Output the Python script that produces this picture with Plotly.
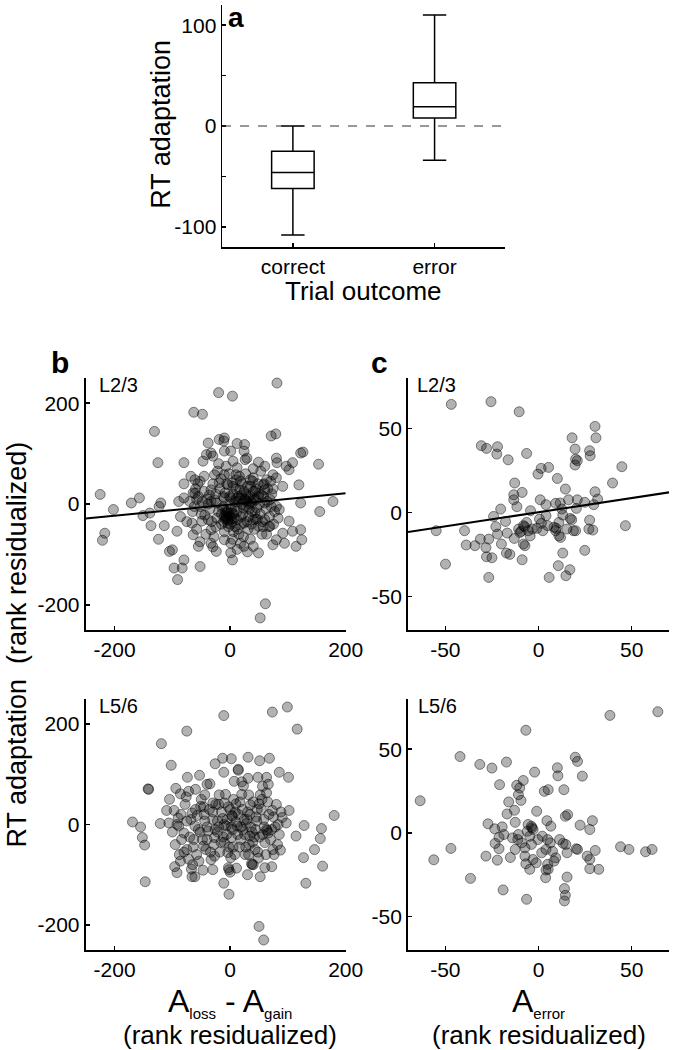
import plotly.graph_objects as go

FONT = "Liberation Sans, Arial, Helvetica, sans-serif"
W, H = 688, 1050

# ---------------- Panel a: RT adaptation by trial outcome (box statistics)
outcome_labels = ["correct", "error"]
box_q1 = [-62, 8]
box_median = [-46, 19]
box_q3 = [-25, 43]
box_lower = [-108, -34]
box_upper = [0, 110]

# ---------------- Panel b, L2/3: (A_loss - A_gain, RT adaptation), rank residualized
b_l23_points = [
    (81, 240), (-20, 221), (4, 214), (-63, 182), (-48, 178), (-225, 19), (-202, -11),
    (-171, 2), (-157, 12), (-151, -23), (-221, -72), (-217, -58), (-91, -150), (61, -198),
    (52, -226), (126, 103), (153, 79), (155, -15), (178, 5), (-83, -127), (124, -71),
    (-131, 144), (-38, 121), (-19, 128), (-10, 131), (-11, 125), (12, 120), (25, 118),
    (71, 135), (79, 139), (-125, 82), (-80, 82), (-47, 85), (-41, 98), (-33, 101), (-30, 95),
    (-10, 105), (1, 105), (24, 105), (26, 88), (29, 91), (49, 83), (80, 91), (81, 82),
    (108, 82), (97, 75), (102, 68), (122, 101), (-61, 48), (-52, 45), (-64, 22), (-61, 21),
    (-27, 58), (-10, 58), (-7, 75), (-33, 28), (-4, 38), (4, 42), (12, 72), (10, 58),
    (40, 52), (35, 35), (43, 25), (57, 38), (60, 28), (63, 48), (74, 58), (80, 52), (91, 35),
    (119, 38), (122, 2), (-89, 5), (-120, 2), (-123, -5), (-139, -18), (-80, 12), (-86, -25),
    (-58, 9), (-52, -5), (-33, 5), (-24, 2), (-10, 12), (1, 12), (18, 12), (29, 5), (38, 2),
    (49, 15), (60, 2), (69, 9), (80, -5), (85, -11), (-137, -43), (-114, -43), (-92, -54),
    (-66, -38), (-49, -34), (-64, -61), (-38, -31), (-33, -51), (-10, -25), (-7, -28),
    (-2, -21), (-4, -38), (12, -31), (24, -38), (40, -31), (49, -44), (60, -31), (69, -44),
    (83, -28), (102, -34), (91, -58), (108, -54), (122, -51), (-124, -70), (-100, -91),
    (-105, -94), (-80, -111), (-55, -84), (-52, -124), (-33, -78), (-24, -94), (-10, -71),
    (1, -78), (4, -111), (1, -97), (18, -78), (24, -84), (40, -84), (49, -97), (74, -81),
    (80, -71), (94, -78), (114, -84), (-97, -127),
    (-60, 30), (-55, 15), (-45, 25), (-40, 10), (-35, -10), (-30, 40), (-25, 20), (-20, -15),
    (-18, 30), (-15, -40), (-12, -5), (-8, -30), (-5, -15), (-3, -45), (0, -25), (2, -10),
    (3, -35), (5, 20), (6, -55), (8, 5), (10, 30), (12, -15), (14, 15), (15, -60), (18, 45),
    (20, 0), (22, -20), (24, 25), (26, 10), (28, -5), (30, 35), (32, -25), (34, 15), (36, 5),
    (38, -15), (40, 25), (42, -50), (44, 8), (46, -8), (48, 40), (50, 20), (52, -20),
    (55, -60), (58, 15), (62, -10), (65, 30), (68, -25), (72, 20), (75, -40), (-65, -15),
    (-58, -50), (-50, -20), (-45, 55), (-42, -60), (-38, 0), (-28, -65), (-22, 65), (-16, 50),
    (-10, -55), (-6, 40), (-2, 60), (4, -70), (9, -45), (16, 55), (19, -40), (23, -65),
    (27, 60), (31, -50), (35, -70), (39, 45), (44, -30), (53, 65), (57, -45), (63, -60),
    (70, 45), (77, -15), (-70, 5), (-75, -35), (-80, 40), (-25, -45), (-12, 15), (0, 0),
    (6, -20), (-8, -15), (-5, -25), (-15, -20), (2, -30), (10, 10), (25, 8), (33, 0), (20, 18),
    (-62, -5), (-56, 40), (-48, 5), (-44, -22), (-36, 18), (-32, -35), (-27, 8), (-23, -28),
    (-19, 42), (-14, -8), (-11, -35), (-9, 22), (-6, -18), (-4, -32), (-1, 15), (1, -40),
    (3, -18), (5, 35), (7, -28), (9, -5), (11, 48), (13, -50), (15, 5), (17, 28), (19, -25),
    (21, 40), (23, -8), (27, 20), (29, -35), (31, 15), (33, -10), (35, 48), (37, -40),
    (41, 10), (43, -18), (45, 30), (47, -30), (51, 0), (54, 18), (56, -35), (59, 40),
    (64, 5), (67, -45), (71, -5), (74, 30), (-68, 55), (-52, -75), (-30, -85), (12, -90),
    (30, -95), (-20, 80), (5, 85), (40, 70), (60, 75),
]
b_l23_fit_intercept = -1.0
b_l23_fit_slope = 0.112

# ---------------- Panel b, L5/6
b_l56_points = [
    (-11, 217), (73, 224), (99, 234), (-75, 186), (116, 190), (-119, 161), (-102, 118),
    (-13, 132), (2, 131), (-26, 121), (31, 134), (51, 127), (68, 132), (14, 110), (14, 108),
    (-11, 104), (85, 104), (101, 94), (31, 92), (48, 94), (63, 94), (-142, 71), (-141, 70),
    (-74, 94), (-53, 98), (-35, 81), (7, 86), (23, 77), (56, 76), (66, 80), (-94, 72),
    (-86, 61), (-72, 66), (-44, 59), (-19, 59), (32, 59), (52, 59), (63, 63), (-110, 28),
    (-97, 28), (-66, 23), (-51, 36), (-30, 43), (-10, 43), (10, 41), (35, 39), (50, 41),
    (73, 28), (90, 14), (102, 28), (-169, 5), (-155, -5), (-152, -26), (-148, -41),
    (-121, 2), (-106, 3), (-90, 13), (-89, -3), (-75, 7), (-61, -3), (-44, 7), (-38, -13),
    (-22, 7), (-7, -3), (3, 18), (4, 16), (12, -3), (28, 2), (46, 7), (63, -10), (64, -12),
    (66, -17), (83, 0), (97, 3), (128, -2), (158, -8), (114, -23), (156, -28), (146, -50),
    (127, -66), (160, -83), (131, -117), (180, 18), (-80, -17), (-63, -30), (-46, -43),
    (-27, -26), (-10, -36), (2, -26), (18, -30), (34, -23), (43, -50), (60, -36), (74, -50),
    (87, -51), (-75, -50), (-72, -69), (-96, -84), (-92, -96), (-86, -73), (-67, -89),
    (-61, -104), (-66, -104), (-47, -91), (-54, -73), (-27, -63), (-4, -56), (1, -66),
    (-3, -86), (-2, -90), (11, -87), (37, -78), (38, -80), (40, -80), (49, -67), (52, -104),
    (60, -86), (72, -84), (-147, -114), (-11, -117), (-2, -139), (50, -203), (58, -230),
    (-95, -40), (-85, 20), (-80, -55), (-78, 40), (-70, -25), (-68, 10), (-60, 30),
    (-58, -60), (-55, -10), (-50, 50), (-48, -30), (-45, 20), (-42, -50), (-40, -5),
    (-36, 30), (-33, -70), (-30, 10), (-28, -40), (-25, 40), (-22, -15), (-18, -55),
    (-15, 25), (-12, -25), (-8, 60), (-5, 10), (-2, -45), (0, 30), (4, -10), (6, 50),
    (8, -60), (14, 20), (16, -45), (20, 60), (22, -10), (24, 10), (26, -60), (30, 25),
    (33, -40), (36, -5), (40, 45), (42, -25), (45, 15), (48, -55), (54, 30), (56, -20),
    (58, 10), (62, -60), (65, 45), (70, -30), (75, 15), (78, -5), (82, -40), (88, 25),
    (-65, -80), (-88, -60), (38, -15), (-20, -5), (-10, 0), (10, 5), (25, -20),
    (-92, 0), (-84, -30), (-76, 55), (-64, -45), (-57, 18), (-52, -15), (-46, 35),
    (-40, -30), (-34, -55), (-30, 25), (-26, -10), (-20, 40), (-16, -35), (-13, 12),
    (-6, -20), (-3, 35), (2, -5), (5, -45), (9, 25), (13, -20), (17, 45), (19, -5), (21, 30),
    (27, -45), (29, 10), (32, -60), (34, 20), (39, -35), (44, -10), (47, 30), (51, -25),
    (55, 50), (59, -5), (67, 20), (72, -10), (76, -60), (80, 40), (85, -20), (-100, -15),
    (-105, 50), (-40, 80), (20, 85), (-60, 70), (-30, -90), (0, -95), (30, -100),
]

# ---------------- Panel c, L2/3: (A_error, RT adaptation), rank residualized
c_l23_points = [
    (-46.8, 64.3), (-25.5, 65.9), (-10.4, 59.9), (30.3, 51.2), (18.0, 44.4), (30.8, 44.4),
    (-30.7, 39.7), (-27.9, 38.1), (-22.0, 39.1), (-22.4, 34.7), (-6.4, 35.1), (-16.3, 31.3),
    (19.6, 37.7), (27.4, 36.7), (27.7, 33.7), (19.9, 31.7), (20.8, 30.8), (19.6, 28.2),
    (-0.3, 22.8), (1.4, 26.2), (5.4, 26.8), (10.1, 20.2), (44.7, 27.2), (39.7, 17.5),
    (-12.8, 17.5), (-13.3, 10.5), (-8.8, 11.9), (14.4, 13.9), (30.3, 12.3), (-13.3, 7.5),
    (-11.6, 3.4), (-20.3, 2.0), (-4.3, 1.0), (0.9, 7.5), (4.0, 4.6), (9.2, 5.4), (11.6, 5.6),
    (16.1, 7.5), (20.8, 7.5), (24.8, 6.0), (29.6, 4.6), (31.7, 7.9), (20.3, 2.4),
    (-24.1, -2.4), (-17.7, -5.4), (-22.9, -8.5), (-22.0, -12.9), (-16.8, -12.3),
    (-13.0, -15.5), (-10.7, -9.9), (-8.1, -7.9), (-6.4, -6.0), (-5.5, -10.9), (-9.4, -11.3),
    (0.5, -4.0), (2.3, -10.9), (4.9, -7.9), (8.3, -8.9), (9.2, -10.9), (10.9, -6.0),
    (13.0, -1.6), (15.2, -9.9), (11.8, -14.9), (17.0, -3.6), (17.8, -4.4), (18.7, -10.9),
    (19.9, -10.9), (27.4, -4.6), (27.0, -9.9), (29.1, -10.5), (46.6, -7.9), (-54.9, -10.9),
    (-39.7, -10.9), (-38.8, -19.4), (-34.1, -19.8), (-31.2, -15.9), (-26.7, -15.9),
    (-28.2, -21.0), (-27.9, -26.4), (-25.0, -27.0), (-19.9, -18.8), (-17.2, -24.2),
    (-15.4, -25.0), (-8.1, -18.8), (-7.3, -19.8), (-8.8, -28.2), (-49.9, -30.8),
    (-26.7, -38.7), (5.7, -38.7), (10.6, -31.7), (13.0, -24.2), (16.8, -34.1),
    (14.7, -37.7), (24.8, -22.6), (10.9, -13.9), (-3.3, -9.9), (-0.9, -9.5), (4.0, -2.0),
    (-7.5, -8.5), (-10.0, -12.0), (9.5, -9.5), (1.5, -6.5), (-4.5, -14.0), (12.5, 2.0),
]
c_l23_fit_intercept = 0.1
c_l23_fit_slope = 0.169

# ---------------- Panel c, L5/6
c_l56_points = [
    (64.0, 72.4), (38.3, 70.2), (-6.8, 61.3), (-42.1, 45.6), (-31.5, 40.9), (-25.0, 38.7),
    (-17.2, 42.3), (19.7, 45.2), (20.9, 42.7), (10.1, 38.9), (10.4, 34.1), (23.5, 33.9),
    (-2.1, 36.3), (-20.9, 28.8), (-8.2, 31.3), (-11.7, 28.4), (-10.1, 26.8), (3.1, 24.8),
    (5.2, 25.8), (13.6, 25.8), (-63.5, 19.2), (-16.0, 18.5), (-9.4, 19.4), (-10.8, 22.8),
    (-12.9, 13.5), (-16.9, 11.3), (-1.0, 12.9), (14.4, 9.9), (15.6, 10.9), (4.5, 7.3),
    (6.6, 4.0), (22.3, 4.6), (28.9, 7.3), (27.5, 2.0), (-27.1, 5.4), (-23.5, 2.4),
    (-19.5, 3.6), (-12.5, 6.3), (-5.6, 5.0), (-3.8, 4.0), (-2.9, 2.0), (-18.6, -1.0),
    (-21.2, -2.6), (-23.3, -6.3), (-21.2, -9.5), (-10.8, -1.0), (-11.1, -4.0), (-9.0, -6.0),
    (-12.5, -9.9), (-7.3, -8.9), (-3.8, -6.9), (-0.3, -4.0), (4.9, -4.0), (6.3, -6.0),
    (4.0, -9.9), (1.7, -11.9), (11.3, -4.0), (13.2, -6.3), (14.6, -6.9), (15.3, -11.9),
    (20.2, -9.5), (20.9, -9.9), (26.1, -13.9), (27.5, -15.9), (30.4, -10.5), (27.5, -21.4),
    (32.3, -21.8), (44.0, -8.3), (48.5, -9.9), (57.4, -11.3), (60.9, -9.9), (-47.0, -9.3),
    (-56.2, -16.1), (-28.2, -13.9), (-22.1, -16.3), (-15.1, -14.7), (-7.3, -13.9),
    (-6.8, -18.5), (-3.0, -15.9), (-1.2, -17.9), (-4.7, -21.8), (4.9, -18.8), (8.3, -16.9),
    (9.2, -14.9), (4.0, -22.2), (5.2, -21.8), (3.8, -26.8), (15.3, -26.4), (-36.5, -27.2),
    (-19.0, -34.1), (-6.4, -39.7), (13.9, -33.3), (14.4, -37.3), (13.9, -40.7),
    (-4.7, -2.0), (-3.5, 3.0), (-6.0, 1.0), (2.0, -2.0), (-14.0, -3.0), (7.5, -11.0),
]

# ---------------- axis ticks
a_yticks = [-100, 0, 100]
a_yticklabels = ["-100", "0", "100"]
a_yminor = [-50, 50]
b_ticks = [-200, 0, 200]
b_ticklabels = ["-200", "0", "200"]
c_ticks = [-50, 0, 50]
c_ticklabels = ["-50", "0", "50"]


def px_x(px):
    return px / W


def px_y(py):
    return 1 - py / H


fig = go.Figure()

# ---- panel a boxes
for i, lab in enumerate(outcome_labels):
    fig.add_trace(go.Box(
        x=[i + 1], q1=[box_q1[i]], median=[box_median[i]], q3=[box_q3[i]],
        lowerfence=[box_lower[i]], upperfence=[box_upper[i]],
        width=0.3, whiskerwidth=0.55, fillcolor="white",
        line=dict(color="black", width=1.5), boxpoints=False,
        showlegend=False, hoverinfo="skip", xaxis="x", yaxis="y",
    ))

marker_style = dict(size=10, color="rgba(0,0,0,0.30)",
                    line=dict(color="rgba(0,0,0,0.45)", width=1))


def add_scatter(points, xa, ya):
    fig.add_trace(go.Scatter(
        x=[p[0] for p in points], y=[p[1] for p in points], mode="markers",
        marker=marker_style, showlegend=False, hoverinfo="skip",
        xaxis=xa, yaxis=ya, cliponaxis=False,
    ))


def add_fit(intercept, slope, xr, xa, ya):
    xs = [xr[0], xr[1]]
    fig.add_trace(go.Scatter(
        x=xs, y=[intercept + slope * v for v in xs], mode="lines",
        line=dict(color="black", width=2), showlegend=False, hoverinfo="skip",
        xaxis=xa, yaxis=ya,
    ))


b_xrange = [-250, 200]
b_yrange = [-250, 250]
c_xrange = [-70, 70]
c_yrange = [-70, 80]

add_scatter(b_l23_points, "x2", "y2")
add_fit(b_l23_fit_intercept, b_l23_fit_slope, b_xrange, "x2", "y2")
add_scatter(c_l23_points, "x3", "y3")
add_fit(c_l23_fit_intercept, c_l23_fit_slope, c_xrange, "x3", "y3")
add_scatter(b_l56_points, "x4", "y4")
add_scatter(c_l56_points, "x5", "y5")

tickfont = dict(family=FONT, size=21, color="black")


def axis(domain, rng, tickvals, ticktext, anchor, font=tickfont, lw=2):
    return dict(domain=domain, range=rng, tickvals=tickvals, ticktext=ticktext,
                anchor=anchor, showline=True, linecolor="black", linewidth=lw,
                ticks="inside", ticklen=4, tickwidth=1.5, tickcolor="black",
                showgrid=False, zeroline=False, tickfont=font, mirror=False,
                fixedrange=True)


col_b = [px_x(88), px_x(355)]
col_c = [px_x(419), px_x(687)]
row_top = [px_y(630), px_y(378)]
row_bot = [px_y(950), px_y(699)]

ya = axis([px_y(247), px_y(5)], [-120, 120], a_yticks, a_yticklabels, "x", lw=1.5)
ya["minor"] = dict(tickvals=a_yminor, ticks="inside", ticklen=4, tickwidth=1.5,
                   tickcolor="black", showgrid=False)

layout = dict(
    width=W, height=H, autosize=False,
    margin=dict(l=0, r=0, t=0, b=0),
    paper_bgcolor="white", plot_bgcolor="rgba(0,0,0,0)",
    font=dict(family=FONT, color="black"),
    xaxis=axis([px_x(228), px_x(519)], [0.5, 2.5], [1, 2], outcome_labels, "y",
               font=dict(family=FONT, size=21, color="black"), lw=1.5),
    yaxis=ya,
    xaxis2=axis(col_b, b_xrange, b_ticks, b_ticklabels, "y2"),
    yaxis2=axis(row_top, b_yrange, b_ticks, b_ticklabels, "x2"),
    xaxis3=axis(col_c, c_xrange, c_ticks, c_ticklabels, "y3"),
    yaxis3=axis(row_top, c_yrange, c_ticks, c_ticklabels, "x3"),
    xaxis4=axis(col_b, b_xrange, b_ticks, b_ticklabels, "y4"),
    yaxis4=axis(row_bot, b_yrange, b_ticks, b_ticklabels, "x4"),
    xaxis5=axis(col_c, c_xrange, c_ticks, c_ticklabels, "y5"),
    yaxis5=axis(row_bot, c_yrange, c_ticks, c_ticklabels, "x5"),
)
fig.update_layout(**layout)

# dashed zero line in panel a
fig.add_shape(type="line", xref="x", yref="y", x0=0.5, x1=2.5, y0=0, y1=0,
              line=dict(color="#333333", width=1, dash="dash"))


def ann(text, x, y, size, bold=False, angle=0, xanchor="center", yanchor="middle"):
    fig.add_annotation(
        text=f"<b>{text}</b>" if bold else text, x=px_x(x), y=px_y(y),
        xref="paper", yref="paper", showarrow=False, textangle=angle,
        xanchor=xanchor, yanchor=yanchor,
        font=dict(family=FONT, size=size, color="black"),
    )


ann("a", 242, 0, 28, bold=True, yanchor="top")
ann("RT adaptation", 165, 124, 27, angle=-90)
ann("Trial outcome", 373, 291, 26)
ann("b", 62, 362, 30, bold=True)
ann("c", 390, 363, 30, bold=True)
ann("L2/3", 100, 385, 20, xanchor="left")
ann("L2/3", 426, 385, 20, xanchor="left")
ann("L5/6", 100, 706, 20, xanchor="left")
ann("L5/6", 427, 706, 20, xanchor="left")
ann("RT adaptation  (rank residualized)", 17, 645, 27, angle=-90)
ann('A<sub><span style="font-size:15px">loss</span></sub> - '
    'A<sub><span style="font-size:15px">gain</span></sub>', 236, 1002, 32)
ann("(rank residualized)", 236, 1035, 26)
ann('A<sub><span style="font-size:15px">error</span></sub>', 553, 1002, 32)
ann("(rank residualized)", 553, 1035, 26)

fig.write_html(
    "out.html",
    config={"displayModeBar": False, "staticPlot": True},
    post_script="document.body.style.margin='0px';document.body.style.overflow='hidden';",
)
